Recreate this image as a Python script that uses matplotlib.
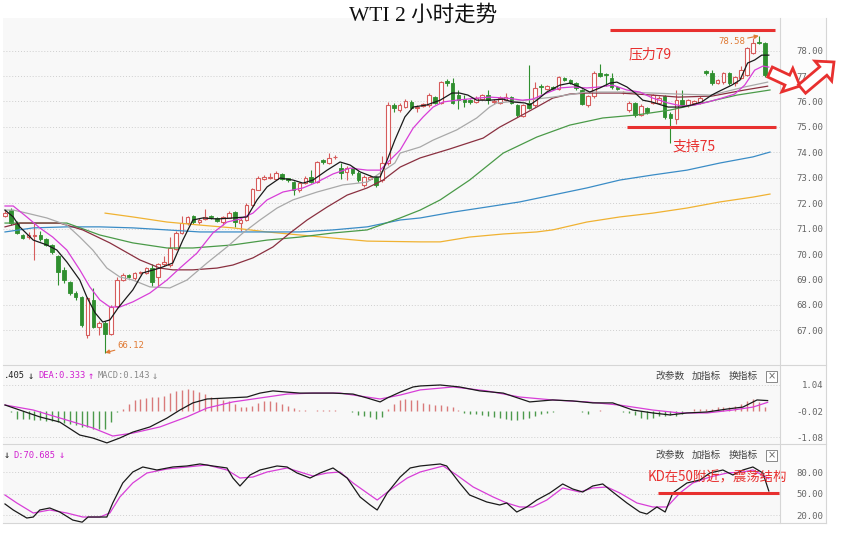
import numpy as np
import matplotlib
matplotlib.use('Agg')
import matplotlib.pyplot as plt
from matplotlib.patches import Rectangle, FancyArrow
from matplotlib.lines import Line2D
from matplotlib.transforms import IdentityTransform

plt.rcParams['font.family'] = ['Noto Sans CJK SC', 'DejaVu Sans']
plt.rcParams['axes.unicode_minus'] = False

# ---- candles (2h bars) ----
opens = [71.50, 71.72, 71.22, 70.75, 70.67, 70.70, 70.75, 70.59, 70.36, 69.92,
         69.38, 68.90, 68.47, 68.31, 66.82, 68.20, 67.14, 67.29, 66.86, 67.95,
         68.98, 69.18, 69.06, 69.26, 69.26, 69.45, 69.10, 69.61, 69.57, 70.20,
         70.83, 71.22, 71.50, 71.26, 71.38, 71.48, 71.40, 71.25, 71.43, 71.65,
         71.22, 71.34, 71.93, 72.52, 72.95, 73.00, 72.95, 73.15, 72.99, 72.83,
         72.52, 72.79, 73.03, 72.83, 73.70, 73.58, 73.80, 73.38, 73.23, 73.38,
         73.19, 72.72, 72.95, 73.03, 72.91, 73.58, 75.86, 75.66, 75.78, 75.98,
         75.76, 75.84, 75.86, 76.17, 75.94, 76.80, 76.72, 76.25, 76.09, 76.05,
         75.98, 76.10, 76.25, 75.98, 75.94, 76.05, 76.17, 75.86, 75.43, 75.94,
         75.86, 76.60, 76.49, 76.57, 76.49, 76.92, 76.84, 76.72, 76.45, 75.86,
         76.21, 77.12, 77.06, 76.92, 76.57, 76.36, 75.66, 75.94, 75.47, 75.74,
         75.94, 75.94, 76.21, 75.50, 75.30, 76.05, 75.86, 75.94, 75.94, 77.20,
         77.12, 76.72, 76.76, 77.12, 76.72, 76.92, 77.04, 77.90, 78.32, 78.29]
highs = [71.72, 71.80, 71.30, 70.80, 70.85, 71.22, 70.90, 70.65, 70.40, 69.95,
         69.50, 68.95, 68.55, 68.35, 68.30, 68.67, 67.35, 67.35, 68.00, 69.10,
         69.25, 69.22, 69.30, 69.35, 69.50, 69.61, 69.65, 69.93, 70.67, 70.90,
         71.50, 71.50, 71.55, 71.40, 71.77, 71.55, 71.45, 71.50, 71.68, 71.70,
         71.40, 72.00, 72.60, 73.05, 73.10, 73.19, 73.25, 73.20, 73.00, 72.88,
         72.85, 73.05, 73.30, 73.65, 73.75, 73.97, 73.88, 73.58, 73.45, 73.42,
         73.25, 73.10, 73.10, 73.08, 73.85, 75.98, 75.95, 75.95, 76.10, 76.05,
         75.85, 75.95, 76.35, 76.20, 76.80, 76.90, 76.92, 76.45, 76.25, 76.10,
         76.20, 76.30, 76.45, 76.10, 76.20, 76.35, 76.22, 75.90, 75.90, 77.43,
         76.76, 76.70, 76.65, 76.60, 77.00, 76.96, 76.90, 76.76, 76.50, 76.25,
         77.20, 77.47, 77.10, 77.12, 76.60, 76.42, 76.00, 75.98, 75.90, 75.78,
         76.30, 76.20, 76.25, 75.60, 76.45, 76.45, 76.10, 76.05, 76.20, 77.25,
         77.25, 76.90, 77.15, 77.15, 77.00, 77.40, 78.15, 78.49, 78.58, 78.35]
lows = [71.45, 71.15, 70.78, 70.60, 70.60, 69.75, 70.50, 70.30, 70.00, 68.79,
        68.86, 68.40, 68.20, 67.15, 66.70, 67.10, 66.82, 66.12, 66.80, 67.90,
        68.95, 69.05, 69.00, 69.20, 69.20, 68.75, 68.75, 69.55, 69.50, 70.15,
        70.80, 71.15, 71.20, 71.20, 71.35, 71.38, 71.25, 71.15, 71.40, 71.07,
        70.90, 71.30, 71.90, 72.50, 72.90, 72.95, 72.90, 72.90, 72.85, 72.32,
        72.45, 72.75, 72.80, 72.80, 73.55, 73.55, 73.75, 72.95, 72.91, 73.10,
        72.85, 72.65, 72.90, 72.65, 72.85, 73.50, 75.60, 75.60, 75.75, 75.70,
        75.60, 75.80, 75.80, 75.90, 75.90, 76.60, 75.90, 75.70, 75.80, 75.90,
        75.95, 76.05, 75.90, 75.90, 75.90, 76.00, 75.90, 75.40, 75.40, 75.70,
        75.80, 76.30, 76.45, 76.45, 76.45, 76.80, 76.70, 76.45, 75.85, 75.80,
        76.15, 76.95, 76.60, 76.50, 76.45, 76.30, 75.60, 75.40, 75.43, 75.50,
        75.90, 75.90, 75.30, 74.37, 75.11, 75.80, 75.80, 75.90, 75.90, 77.05,
        76.65, 76.70, 76.70, 76.65, 76.60, 76.90, 77.00, 77.85, 78.25, 76.95]
closes = [71.61, 71.22, 70.83, 70.63, 70.75, 70.75, 70.60, 70.36, 70.08, 69.30,
          68.98, 68.47, 68.31, 67.21, 68.27, 67.14, 67.29, 66.86, 67.92, 68.98,
          69.18, 69.10, 69.26, 69.30, 69.45, 68.90, 69.61, 69.67, 70.24, 70.83,
          71.22, 71.46, 71.26, 71.34, 71.46, 71.44, 71.30, 71.45, 71.61, 71.26,
          71.34, 71.93, 72.56, 72.99, 73.03, 73.03, 73.19, 72.95, 72.91, 72.52,
          72.79, 72.99, 72.83, 73.62, 73.62, 73.78, 73.82, 73.19, 73.38, 73.19,
          72.91, 73.03, 73.03, 72.72, 73.58, 75.86, 75.74, 75.86, 76.02, 75.74,
          75.80, 75.88, 76.25, 75.94, 76.76, 76.72, 75.94, 76.05, 75.98, 75.98,
          76.13, 76.25, 76.05, 76.02, 76.13, 76.17, 75.94, 75.47, 75.86, 75.74,
          76.53, 76.57, 76.61, 76.49, 76.96, 76.84, 76.72, 76.53, 75.90, 76.21,
          77.12, 77.00, 77.02, 76.57, 76.49, 76.38, 75.94, 75.47, 75.82, 75.58,
          76.25, 76.13, 75.39, 75.35, 76.05, 75.86, 76.05, 76.02, 76.13, 77.12,
          76.72, 76.84, 77.12, 76.72, 76.96, 77.23, 78.10, 78.29, 78.29, 77.04]

# ---- moving averages (bar index, price) ----
ma5_x = [0, 1.4, 2.5, 4.8, 7.1, 8.8, 10.5, 12.7, 13.9, 15.3, 16.6, 17.8, 19.2, 20.7, 21.7,
         23.4, 26.3, 28.5, 30.2, 31.9, 33.6, 36.0, 38.7, 41.1, 42.8, 44.5, 46.7, 48.9, 50.6,
         52.3, 54.7, 56.9, 58.6, 60.3, 62.5, 63.7, 64.9, 66.2, 67.9, 69.3, 71.6, 73.9, 75.9,
         77.2, 78.6, 80.1, 82.3, 84.6, 86.2, 88.3, 89.1, 90.3, 92.0, 94.2, 95.9, 97.6, 99.3,
         101.0, 102.7, 103.9, 105.6, 107.0, 108.3, 109.8, 112.6, 114.9, 116.6, 118.3, 120.0,
         121.0, 123.4, 124.8, 126.1, 127.3, 128.5, 129.7]
ma5_y = [71.73, 71.46, 71.07, 70.55, 70.36, 70.16, 69.69, 68.98, 68.31, 67.69, 67.33, 67.41,
         67.88, 68.31, 68.59, 69.26, 69.45, 69.65, 70.55, 71.34, 71.42, 71.38, 71.42, 71.46,
         72.13, 72.64, 72.99, 72.91, 72.79, 72.91, 73.30, 73.62, 73.50, 73.23, 73.03, 73.03,
         73.70, 74.48, 75.39, 75.78, 75.86, 76.05, 76.33, 76.33, 76.25, 76.05, 76.05, 76.09,
         75.98, 75.94, 75.86, 76.05, 76.37, 76.64, 76.72, 76.57, 76.37, 76.53, 76.72, 76.76,
         76.57, 76.33, 76.05, 75.98, 75.78, 75.78, 75.86, 75.98, 76.25, 76.37, 76.64, 76.84,
         77.51, 77.63, 77.82, 77.82]
ma10_x = [0, 1.4, 3.7, 5.9, 8.1, 10.5, 12.7, 14.4, 16.1, 17.8, 19.5, 21.7, 24.6, 27.5, 29.7,
          32.6, 35.3, 37.7, 39.9, 42.1, 44.5, 47.2, 50.6, 53.0, 55.7, 58.6, 61.5, 63.7, 65.4,
          67.1, 69.3, 71.0, 72.7, 74.4, 76.7, 80.1, 82.3, 85.2, 87.9, 89.6, 92.0, 94.2, 96.4,
          98.8, 101.0, 103.2, 105.6, 107.8, 110.0, 112.6, 114.9, 117.1, 119.4, 121.7, 123.9,
          125.6, 127.3, 128.7, 129.7]
ma10_y = [71.89, 71.89, 71.46, 71.03, 70.67, 70.16, 69.38, 68.71, 68.20, 67.92, 67.92, 68.12,
          68.47, 68.98, 69.45, 70.04, 70.83, 71.26, 71.38, 71.61, 72.13, 72.44, 72.60, 72.83,
          73.15, 73.38, 73.30, 73.30, 73.70, 74.09, 74.95, 75.39, 75.78, 75.98, 76.05, 76.13,
          76.17, 76.13, 76.05, 76.09, 76.33, 76.53, 76.57, 76.53, 76.57, 76.64, 76.45, 76.37,
          76.13, 75.94, 75.82, 75.86, 75.98, 76.13, 76.29, 76.64, 77.23, 77.39, 77.35]
ma20_x = [0, 1.4, 3.7, 7.1, 10.5, 12.7, 14.9, 17.3, 19.5, 21.7, 24.6, 28.0, 30.9, 34.3, 37.7,
          40.4, 43.3, 46.2, 48.9, 53.0, 57.4, 61.5, 63.7, 66.2, 67.1, 70.5, 72.7, 76.7, 80.1,
          82.3, 83.5, 87.4, 93.0, 98.8, 104.4, 110.0, 114.3, 120.0, 125.6, 129.5]
ma20_y = [71.73, 71.73, 71.61, 71.42, 71.14, 70.67, 70.16, 69.45, 69.10, 68.98, 68.71, 68.67,
          68.98, 69.65, 70.28, 70.83, 71.34, 71.81, 72.13, 72.44, 72.72, 72.83, 73.19, 73.58,
          73.97, 74.21, 74.48, 74.88, 75.35, 75.78, 75.94, 76.02, 76.17, 76.37, 76.37, 76.33,
          76.29, 76.25, 76.57, 76.76]
ma30_x = [0, 2.5, 9.3, 13.2, 17.8, 22.9, 26.3, 28.5, 31.9, 36.0, 38.7, 42.1, 45.5, 48.4, 51.3,
          54.7, 58.1, 61.5, 64.2, 67.1, 70.5, 75.5, 81.2, 84.0, 86.9, 90.3, 93.0, 95.9, 98.8,
          104.4, 110.0, 114.3, 120.0, 125.6, 129.5]
ma30_y = [71.07, 71.22, 71.22, 70.95, 70.44, 69.77, 69.45, 69.38, 69.38, 69.45, 69.57, 69.85,
          70.28, 70.83, 71.34, 71.85, 72.32, 72.60, 72.91, 73.42, 73.78, 74.13, 74.56, 74.99,
          75.35, 75.78, 76.13, 76.29, 76.33, 76.33, 76.25, 76.17, 76.21, 76.45, 76.60]
ma60_x = [0, 10.5, 16.1, 21.7, 27.5, 31.9, 38.7, 44.5, 50.1, 55.7, 61.5, 67.1, 70.5, 73.9,
          78.9, 84.6, 90.3, 95.9, 101.5, 107.3, 112.9, 118.5, 124.3, 129.9]
ma60_y = [71.22, 71.22, 70.75, 70.44, 70.24, 70.24, 70.36, 70.55, 70.67, 70.83, 70.95, 71.42,
          71.73, 72.13, 72.91, 73.97, 74.60, 75.07, 75.35, 75.47, 75.66, 75.94, 76.25, 76.45]
ma120_x = [0, 4.8, 10.5, 16.1, 21.7, 27.5, 33.1, 50.1, 55.7, 61.5, 67.1, 70.5, 76.1, 81.8,
           87.4, 93.0, 98.8, 104.4, 110.0, 115.8, 121.4, 127.0, 129.9]
ma120_y = [70.87, 71.03, 71.07, 71.07, 71.03, 70.95, 70.87, 70.87, 70.95, 71.07, 71.34, 71.42,
           71.65, 71.85, 72.05, 72.32, 72.60, 72.91, 73.11, 73.30, 73.58, 73.82, 74.01]
ma250_x = [17.0, 21.7, 27.5, 33.1, 38.7, 44.5, 50.1, 55.7, 61.5, 70.5, 73.9, 78.9, 84.6, 90.3,
           93.0, 98.8, 104.4, 110.0, 115.8, 121.4, 127.0, 129.9]
ma250_y = [71.61, 71.46, 71.26, 71.14, 71.03, 70.87, 70.75, 70.63, 70.51, 70.48, 70.48, 70.67,
           70.79, 70.87, 70.95, 71.26, 71.46, 71.61, 71.81, 72.05, 72.24, 72.36]

# ---- MACD ----
macd_hist = [-0.03, -0.05, -0.34, -0.34, -0.34, -0.38, -0.38, -0.41, -0.41, -0.48,
             -0.52, -0.54, -0.61, -0.68, -0.68, -0.75, -0.75, -0.75, -0.48, -0.07,
             0.07, 0.27, 0.41, 0.48, 0.52, 0.54, 0.57, 0.61, 0.71, 0.79,
             0.84, 0.86, 0.82, 0.75, 0.68, 0.57, 0.52, 0.44, 0.38, 0.27,
             0.16, 0.16, 0.20, 0.30, 0.37, 0.37, 0.34, 0.27, 0.20, 0.11,
             0.02, 0.01, -0.02, 0.02, 0.03, 0.02, 0.01, -0.02, -0.03, -0.05,
             -0.20, -0.24, -0.27, -0.34, -0.27, 0.07, 0.27, 0.41, 0.45, 0.44,
             0.41, 0.30, 0.27, 0.24, 0.24, 0.20, 0.14, 0.02, -0.11, -0.14,
             -0.16, -0.20, -0.24, -0.27, -0.31, -0.34, -0.38, -0.38, -0.34, -0.30,
             -0.24, -0.16, -0.11, -0.07, -0.02, -0.02, -0.04, -0.02, -0.05, -0.14,
             -0.02, 0.02, -0.02, -0.03, -0.04, -0.06, -0.10, -0.20, -0.30, -0.34,
             -0.31, -0.24, -0.24, -0.20, -0.24, -0.14, -0.02, 0.05, 0.06, 0.07,
             0.07, 0.14, 0.16, 0.16, 0.20, 0.27, 0.37, 0.48, 0.34, 0.14]
dif_x = [0, 2.5, 5.9, 9.3, 12.7, 14.9, 17.3, 19.5, 21.7, 24.6, 27.5, 29.7, 31.9, 34.3, 37.7,
         41.1, 43.3, 45.5, 47.9, 50.1, 53.0, 55.7, 59.1, 61.5, 63.7, 64.9, 67.1, 69.3, 70.5,
         73.9, 77.2, 80.6, 84.6, 89.1, 93.0, 96.4, 99.8, 103.2, 106.6, 110.0, 112.9, 115.8,
         119.2, 122.6, 125.3, 127.7, 129.5]
dif_y = [0.225, 0.02, -0.26, -0.47, -1.0, -1.12, -1.32, -1.12, -0.88, -0.67, -0.31, 0.02,
         0.31, 0.47, 0.51, 0.55, 0.71, 0.80, 0.75, 0.71, 0.71, 0.71, 0.67, 0.51, 0.35, 0.51,
         0.75, 0.96, 1.0, 1.04, 0.96, 0.80, 0.71, 0.35, 0.43, 0.39, 0.31, 0.31, 0.02, -0.10,
         -0.18, -0.10, -0.06, 0.06, 0.14, 0.43, 0.405]
dea_x = [0, 4.8, 10.5, 14.9, 18.3, 21.7, 26.3, 30.9, 34.3, 38.7, 43.3, 47.9, 52.3, 56.9, 60.3,
         63.7, 67.1, 70.5, 76.1, 81.8, 87.4, 93.0, 98.8, 104.4, 110.0, 114.6, 119.2, 123.6,
         127.0, 129.5]
dea_y = [0.225, 0.02, -0.39, -0.71, -1.04, -0.92, -0.67, -0.26, 0.10, 0.35, 0.51, 0.67, 0.71,
         0.71, 0.59, 0.47, 0.63, 0.84, 0.96, 0.80, 0.55, 0.43, 0.35, 0.22, 0.02, -0.10, -0.10,
         0.02, 0.14, 0.333]

# ---- KD ----
k_x = [0, 1.4, 3.7, 4.8, 5.9, 7.6, 9.3, 11.5, 13.1, 14.1, 16.1, 17.3, 18.3, 20.0, 21.7, 23.4,
       25.8, 28.5, 30.9, 33.1, 35.3, 37.7, 38.7, 39.9, 41.6, 43.3, 46.2, 47.9, 49.6, 51.8,
       53.5, 55.7, 58.1, 60.3, 62.0, 63.2, 64.9, 67.1, 68.8, 70.5, 73.9, 75.0, 77.2, 78.9,
       81.8, 84.0, 85.2, 86.9, 88.6, 90.3, 92.5, 94.7, 96.4, 98.1, 99.8, 101.5, 103.2, 105.6,
       107.8, 109.0, 110.7, 112.1, 113.4, 115.8, 118.0, 119.7, 121.9, 123.6, 125.3, 127.0,
       128.7, 129.7]
k_y = [35.4, 27.0, 15.8, 17.2, 27.0, 29.8, 24.2, 13.0, 10.0, 17.2, 17.2, 17.2, 36.8, 64.7,
       80.0, 87.0, 82.8, 87.0, 88.4, 91.2, 88.4, 85.6, 71.6, 60.5, 75.8, 82.8, 88.4, 87.0,
       78.6, 71.6, 78.6, 85.6, 71.6, 45.1, 34.0, 27.0, 50.7, 73.0, 85.6, 88.4, 91.2, 88.4,
       64.7, 47.9, 38.2, 34.0, 36.8, 24.2, 31.2, 40.9, 50.7, 63.3, 56.3, 52.1, 60.5, 63.3,
       52.1, 36.8, 24.2, 21.4, 31.2, 24.2, 50.7, 64.7, 68.8, 78.6, 82.8, 75.8, 82.8, 87.0,
       78.6, 53.5]
d_x = [0, 2.0, 4.8, 7.6, 10.5, 13.2, 16.1, 17.8, 19.5, 21.7, 24.1, 27.5, 30.9, 34.3, 37.7,
       39.9, 42.1, 44.5, 47.9, 50.1, 52.3, 54.7, 56.9, 59.1, 61.5, 63.2, 65.4, 68.3, 70.5,
       74.4, 76.7, 79.5, 82.9, 85.2, 87.4, 89.6, 92.0, 94.7, 97.6, 99.8, 102.2, 104.4, 107.3,
       110.0, 112.4, 114.6, 116.8, 119.7, 122.6, 125.3, 127.0, 129.7]
d_y = [47.9, 36.8, 22.8, 27.0, 22.8, 17.2, 17.2, 22.8, 45.1, 64.7, 78.6, 84.2, 87.0, 89.8,
       82.8, 71.6, 73.0, 80.0, 85.6, 80.0, 74.4, 78.6, 80.0, 64.7, 50.7, 40.9, 54.9, 71.6,
       80.0, 88.4, 75.8, 59.1, 45.1, 36.8, 31.2, 31.2, 40.9, 57.7, 52.1, 57.7, 59.1, 50.7,
       36.8, 31.2, 31.2, 50.7, 64.7, 73.0, 78.6, 80.0, 82.8, 70.685]

price_ticks = [78, 77, 76, 75, 74, 73, 72, 71, 70, 69, 68, 67]
macd_ticks = [1.04, -0.02, -1.08]
kd_ticks = [80, 50, 20]
resistance, support, kd_mid = 78.8, 75.0, 51
low_mark, high_mark = 17, 128

RED, GREEN = '#d65c5c', '#2f8f2f'
ANN = '#e8302f'
ORANGE = '#e07a34'
MONO = ['DejaVu Sans Mono', 'DejaVu Sans']

W, H = 846, 534
fig = plt.figure(figsize=(W / 100, H / 100), dpi=100)


def fx(px):
    return px / W


def fy(py):
    return 1 - py / H


def panel(top, bottom):
    a = fig.add_axes([fx(3), fy(bottom), fx(780) - fx(3), (bottom - top) / H])
    a.set_facecolor('#f8f8f8')
    for s in a.spines.values():
        s.set_visible(False)
    a.set_xticks([])
    a.set_xlim(-0.34, 131.6)
    a.yaxis.tick_right()
    a.tick_params(axis='y', length=0, pad=31)
    return a


ax = panel(18, 365)
ax_macd = panel(365, 444)
ax_kd = panel(444, 523)

# label column and frame
fig.add_artist(Rectangle((fx(780), fy(523)), fx(826) - fx(780), (523 - 18) / H,
                         transform=fig.transFigure, facecolor='#fcfcfc', edgecolor='none', zorder=-1))
for (x0, y0, x1, y1) in [(780, 18, 780, 523), (826, 18, 826, 523), (3, 365, 826, 365),
                         (3, 444, 826, 444), (3, 523, 826, 523)]:
    fig.add_artist(Line2D([fx(x0), fx(x1)], [fy(y0), fy(y1)], color='#d6d6d6', lw=0.8))

# ---- main panel ----
x = np.arange(len(opens))
o, h, l, c = map(np.array, (opens, highs, lows, closes))
up = c >= o
ax.vlines(x[up], l[up], h[up], color=RED, lw=0.8, zorder=2)
ax.vlines(x[~up], l[~up], h[~up], color=GREEN, lw=0.8, zorder=2)
ax.bar(x[up], np.maximum(c[up] - o[up], 0.01), bottom=o[up], width=0.62,
       facecolor='white', edgecolor=RED, lw=0.8, zorder=3)
ax.bar(x[~up], o[~up] - c[~up], bottom=c[~up], width=0.62,
       facecolor=GREEN, edgecolor=GREEN, lw=0.6, zorder=3)

ma_lines = [(ma250_x, ma250_y, '#f0b232'), (ma120_x, ma120_y, '#3a8cc6'),
            (ma60_x, ma60_y, '#4a9a48'), (ma30_x, ma30_y, '#8a3040'),
            (ma20_x, ma20_y, '#a9a9a9'), (ma10_x, ma10_y, '#d83ed8'),
            (ma5_x, ma5_y, '#1a1a1a')]
for mx, my, col in ma_lines:
    ax.plot(mx, my, color=col, lw=0.9, zorder=4)

ax.set_ylim(65.64, 79.28)
ax.set_yticks(price_ticks, ['%.2f' % v for v in price_ticks], fontsize=6.5,
              color='#666666', family=MONO, ha='right')
for v in price_ticks:
    ax.axhline(v, color='#cfcfcf', lw=0.7, ls=(0, (1, 2)), zorder=1)

ax.hlines(resistance, 102.7, 130.7, color=ANN, lw=2.2, zorder=5)
ax.hlines(support, 105.6, 130.9, color=ANN, lw=2.2, zorder=5)
ax.text(105.9, 77.86, '压力79', color=ANN, fontsize=10, va='center', ha='left', zorder=6)
ax.text(113.3, 74.21, '支持75', color=ANN, fontsize=10, va='center', ha='left', zorder=6)

ax.annotate('%.2f' % highs[high_mark], xy=(high_mark, highs[high_mark]), xytext=(-10, -4),
            textcoords='offset points', ha='right', va='center', fontsize=6.5, color=ORANGE,
            family=MONO, arrowprops=dict(arrowstyle='-|>', color=ORANGE, lw=0.8,
                                         mutation_scale=6, shrinkA=0, shrinkB=0))
ax.annotate('%.2f' % lows[low_mark], xy=(low_mark, lows[low_mark]), xytext=(9, 5),
            textcoords='offset points', ha='left', va='center', fontsize=6.5, color=ORANGE,
            family=MONO, arrowprops=dict(arrowstyle='-|>', color=ORANGE, lw=0.8,
                                         mutation_scale=6, shrinkA=0, shrinkB=0))

# ---- MACD panel ----
hist = np.array(macd_hist)
ax_macd.vlines(x[hist >= 0], 0, hist[hist >= 0], color='#d97a7a', lw=1.0, zorder=2)
ax_macd.vlines(x[hist < 0], 0, hist[hist < 0], color='#4c9a4c', lw=1.0, zorder=2)
ax_macd.plot(dea_x, dea_y, color='#d83ed8', lw=0.9, zorder=3)
ax_macd.plot(dif_x, dif_y, color='#1a1a1a', lw=0.9, zorder=4)
ax_macd.set_ylim(-1.365, 1.855)
ax_macd.set_yticks(macd_ticks, ['%.2f' % v for v in macd_ticks], fontsize=6.5,
                   color='#666666', family=MONO, ha='right')
for v in (macd_ticks[0], macd_ticks[-1]):
    ax_macd.axhline(v, color='#cfcfcf', lw=0.7, ls=(0, (1, 2)), zorder=1)

# ---- KD panel ----
ax_kd.plot(d_x, d_y, color='#d83ed8', lw=0.9, zorder=3)
ax_kd.plot(k_x, k_y, color='#1a1a1a', lw=0.9, zorder=4)
ax_kd.set_ylim(8.86, 119.06)
ax_kd.set_yticks(kd_ticks, ['%.2f' % v for v in kd_ticks], fontsize=6.5,
                 color='#666666', family=MONO, ha='right')
for v in kd_ticks:
    ax_kd.axhline(v, color='#cfcfcf', lw=0.7, ls=(0, (1, 2)), zorder=1)
ax_kd.hlines(kd_mid, 110.9, 131.4, color=ANN, lw=2.2, zorder=5)
ax_kd.text(109.2, 73.0, 'KD在50附近，震荡结构', color=ANN, fontsize=9.6, va='center',
           ha='left', zorder=6)

# ---- headers ----
def ptext(px, py, s, color, size=6.3, family=MONO):
    fig.text(fx(px), fy(py), s, color=color, fontsize=size, family=family,
             ha='left', va='center')


ptext(4, 376, '.405', '#222222')
ptext(28, 376, '↓', '#222222', 7.5)
ptext(38, 376, 'DEA:0.333', '#d020d0')
ptext(88, 376, '↑', '#d020d0', 7.5)
ptext(98, 376, 'MACD:0.143', '#888888')
ptext(152, 376, '↓', '#888888', 7.5)
ptext(4, 455, '↓', '#222222', 7.5)
ptext(13, 455, 'D:70.685', '#d020d0')
ptext(59, 455, '↓', '#d020d0', 7.5)

for py in (376, 455):
    for px, s in ((655, '改参数'), (692, '加指标'), (729, '换指标')):
        ptext(px, py, s, '#444444', 7, ['Noto Sans CJK SC'])
    fig.add_artist(Rectangle((fx(766), fy(py + 5.5)), 11 / W, 11 / H, transform=fig.transFigure,
                             facecolor='white', edgecolor='#888888', lw=0.7))
    fig.text(fx(771.5), fy(py), '×', color='#666666', fontsize=7, ha='center', va='center',
             family=['DejaVu Sans'])

fig.text(fx(423), fy(15), 'WTI 2 小时走势', fontsize=15.5, ha='center', va='center',
         family=['Liberation Serif', 'Noto Sans CJK SC'], color='#111111')

# hollow red arrows at the right edge
for (x0, y0, x1, y1) in [(770, 72, 800, 86), (802, 89, 834, 62)]:
    fig.add_artist(FancyArrow(x0, H - y0, x1 - x0, -(y1 - y0), width=11, head_width=26,
                              head_length=14, length_includes_head=True, facecolor='white',
                              edgecolor=ANN, lw=2, transform=IdentityTransform(), zorder=10))

fig.savefig('out.png', dpi=100, facecolor='white')
